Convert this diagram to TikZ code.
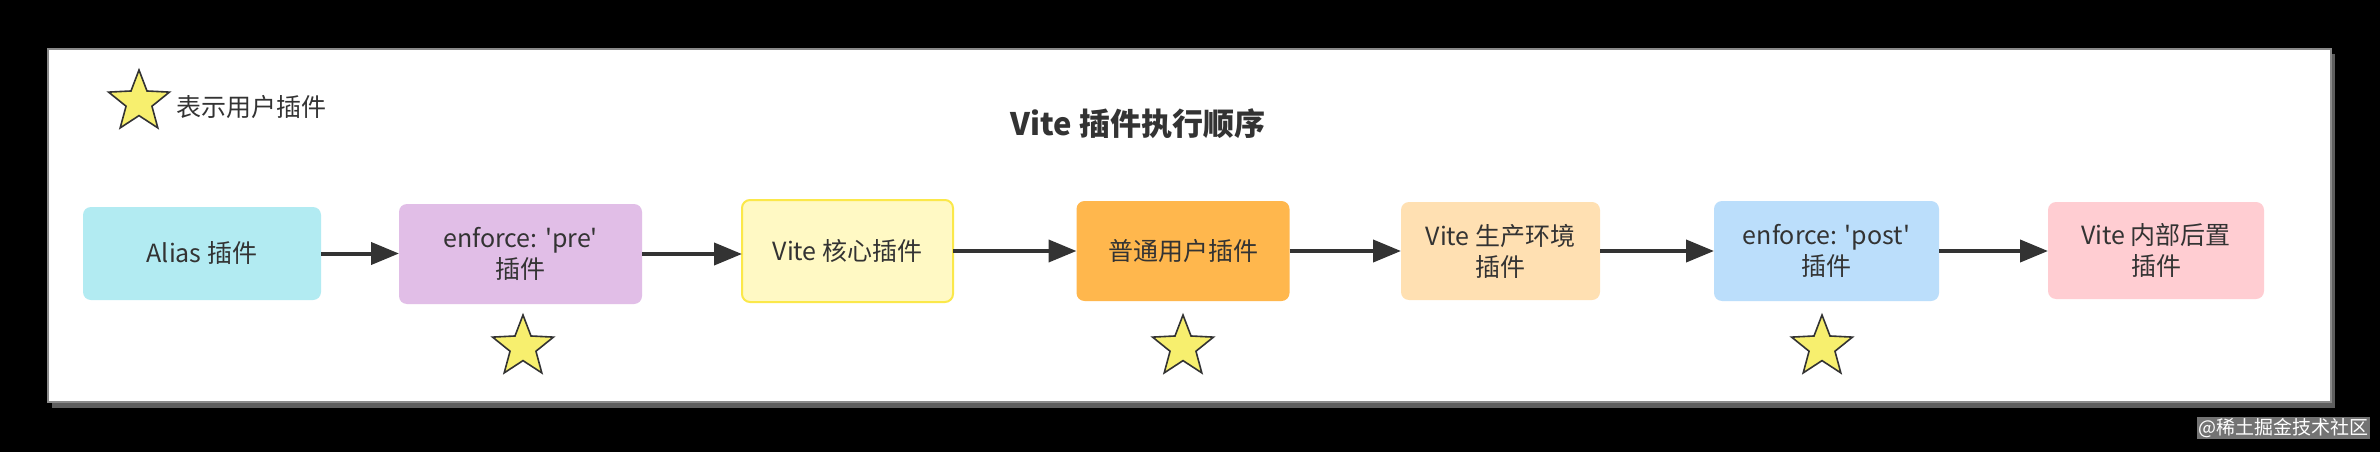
\documentclass[tikz,border=0pt]{standalone}
\usepackage{fontspec}
\setmainfont{Noto Sans CJK SC}[Ligatures=TeXOff]
\usetikzlibrary{shapes.geometric,arrows.meta}
\definecolor{txt}{HTML}{333333}
\definecolor{cAlias}{HTML}{B2EBF2}
\definecolor{cPre}{HTML}{E1BEE7}
\definecolor{cCore}{HTML}{FFF9C4}
\definecolor{cCoreB}{HTML}{FBE84A}
\definecolor{cNorm}{HTML}{FFB74D}
\definecolor{cProd}{HTML}{FFE0B2}
\definecolor{cPost}{HTML}{BBDEFB}
\definecolor{cInt}{HTML}{FFCDD2}
\definecolor{starY}{HTML}{F7EF6E}
\definecolor{frameB}{HTML}{8A8A8A}
\definecolor{frameS}{HTML}{5E5E5E}
\begin{document}
\begin{tikzpicture}[x=1pt,y=-1pt,
  box/.style={rounded corners=8pt, draw=none, align=center, text=txt,
    font=\fontsize{25pt}{31pt}\selectfont, inner sep=0pt, outer sep=0pt},
  flow/.style={draw=txt, line width=4pt, -{Triangle[length=28pt,width=22pt]}},
  ustar/.style={star, star points=5, star point ratio=2.35, minimum size=64pt,
    inner sep=0pt, outer sep=0pt, fill=starY, draw=txt, line width=1.6pt}]
\useasboundingbox (0,0) rectangle (2380,452);
\fill[black] (0,0) rectangle (2380,452);
% frame
\fill[frameS] (52,54) rectangle (2335,408);
\draw[fill=white, draw=frameB, line width=2pt] (48,49) rectangle (2331,402);
% legend
\node[ustar] (lstar) at (139,102) {};
\node[anchor=west, text=txt, font=\fontsize{25pt}{30pt}\selectfont, inner sep=0pt] (ltext) at (176,107) {表示用户插件};
% title
\node[text=txt, font=\fontsize{31pt}{36pt}\selectfont\bfseries, inner sep=0pt] (title) at (1138,124) {Vite 插件执行顺序};
% boxes
\node[box, fill=cAlias, minimum width=238pt, minimum height=93pt] (alias) at (202,253.5) {Alias 插件};
\node[box, fill=cPre, minimum width=243pt, minimum height=100pt] (pre) at (520.5,254) {enforce: 'pre'\\插件};
\node[box, fill=cCore, draw=cCoreB, line width=2pt, minimum width=211pt, minimum height=102pt] (core) at (847.5,251) {Vite 核心插件};
\node[box, fill=cNorm, minimum width=213pt, minimum height=100pt] (norm) at (1183,251) {普通用户插件};
\node[box, fill=cProd, minimum width=199pt, minimum height=98pt] (prod) at (1500.5,251) {Vite 生产环境\\插件};
\node[box, fill=cPost, minimum width=225pt, minimum height=100pt] (post) at (1826.5,251) {enforce: 'post'\\插件};
\node[box, fill=cInt, minimum width=216pt, minimum height=97pt] (int) at (2156,250.5) {Vite 内部后置\\插件};
% arrows
\draw[flow] (alias.east) -- (alias.east -| pre.west);
\draw[flow] (pre.east) -- (pre.east -| core.west);
\draw[flow] (core.east) -- (core.east -| norm.west);
\draw[flow] (norm.east) -- (norm.east -| prod.west);
\draw[flow] (prod.east) -- (prod.east -| post.west);
\draw[flow] (post.east) -- (post.east -| int.west);
% user stars
\node[ustar] (s1) at (523,347) {};
\node[ustar] (s2) at (1183,347) {};
\node[ustar] (s3) at (1822,347) {};
% watermark
\node[fill=black!55, text=white, font=\fontsize{19pt}{22pt}\selectfont, inner sep=1.5pt] (wm) at (2283,428) {@稀土掘金技术社区};
\end{tikzpicture}
\end{document}
